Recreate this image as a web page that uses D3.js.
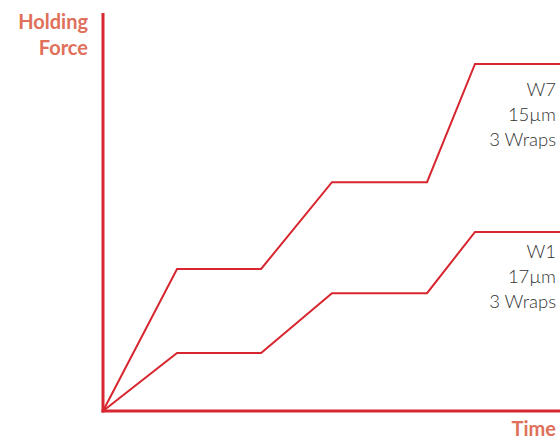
<!DOCTYPE html>
<html><head><meta charset="utf-8">
<script src="https://cdn.jsdelivr.net/npm/d3@7"></script>
<style>body{margin:0;background:#fff}svg{display:block}</style>
</head><body>
<script>
const time = [0, 16.2, 34.6, 50.1, 70.9, 81.4, 100];
const w7 = [0, 35.7, 35.7, 57.5, 57.5, 87.2, 87.2];
const w1 = [0, 14.6, 14.6, 29.6, 29.6, 45.0, 45.0];
const seriesNames = ["W7", "W1"];
const labelsW7 = ["W7", "15µm", "3 Wraps"];
const labelsW1 = ["W1", "17µm", "3 Wraps"];
const yTitle = ["Holding", "Force"];
const xTitle = "Time";

const W = 560, H = 440;
const svg = d3.select("body").append("svg").attr("width", W).attr("height", H);
const x = d3.scaleLinear().domain([0, 100]).range([103, 560]);
const y = d3.scaleLinear().domain([0, 100]).range([411, 13]);
const red = "#d7262f";

const line = d3.line().x((d, i) => x(time[i])).y(d => y(d));
[w7, w1].forEach(s => {
  svg.append("path").attr("d", line(s)).attr("fill", "none")
    .attr("stroke", red).attr("stroke-width", 2).attr("stroke-linejoin", "miter");
});

// axes
svg.append("line").attr("x1", x(0)).attr("x2", x(0)).attr("y1", y(100)).attr("y2", y(0) + 1.5)
  .attr("stroke", red).attr("stroke-width", 3);
svg.append("line").attr("x1", x(0) - 1.5).attr("x2", x(100)).attr("y1", y(0)).attr("y2", y(0))
  .attr("stroke", red).attr("stroke-width", 3);

const titleColor = "#e0705a";
const tf = "Lato, 'Open Sans', sans-serif";
yTitle.forEach((t, i) => {
  svg.append("text").attr("x", 88).attr("y", 29 + i * 26).attr("text-anchor", "end")
    .attr("font-family", tf).attr("font-weight", 700).attr("font-size", 20)
    .attr("fill", titleColor).text(t);
});
svg.append("text").attr("x", 556).attr("y", 436).attr("text-anchor", "end")
  .attr("font-family", tf).attr("font-weight", 700).attr("font-size", 20)
  .attr("fill", titleColor).text(xTitle);

function annot(lines, y0) {
  lines.forEach((t, i) => {
    svg.append("text").attr("x", 556).attr("y", y0 + i * 25).attr("text-anchor", "end")
      .attr("font-family", tf).attr("font-weight", 300).attr("font-size", 18.5)
      .attr("fill", "#333").text(t);
  });
}
annot(labelsW7, 96);
annot(labelsW1, 258);
</script>
</body></html>
